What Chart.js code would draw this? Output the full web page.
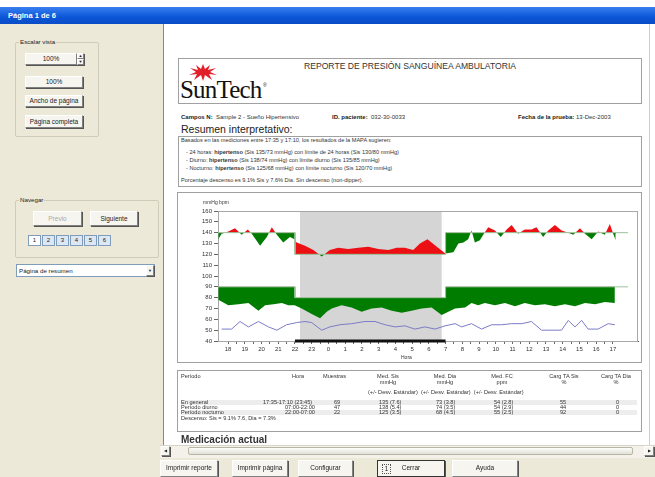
<!DOCTYPE html>
<html>
<head>
<meta charset="utf-8">
<script src="https://cdn.jsdelivr.net/npm/chart.js@4.4.0/dist/chart.umd.min.js"></script>
<style>
body{margin:0;width:655px;height:477px;overflow:hidden;background:#ece9d8;font-family:"Liberation Sans",Arial,sans-serif;position:relative;color:#222}
.a{position:absolute;white-space:nowrap}
.btn{position:absolute;background:#f6f5f0;border:1px solid;border-color:#fff #808080 #808080 #fff;box-shadow:1px 1px 0 #555;font-size:6.5px;text-align:center;color:#222;box-sizing:border-box}
.box{position:absolute;border:1px solid #a0a0a0;box-sizing:border-box;background:#fff}
.grp{position:absolute;border:1px solid #d0ccb8;border-radius:2px;box-sizing:border-box}
.t{font-size:5.6px;color:#333}
.b{font-weight:bold;color:#222}
.row{position:absolute;left:181px;width:456px;height:5px;background:#ededed}
</style>
</head>
<body>
<!-- window frame -->
<div class="a" style="left:0;top:0;width:655px;height:7px;background:#fff"></div>
<div class="a" style="left:0;top:7px;width:655px;height:17px;background:linear-gradient(#3a7ff0,#0a56d8 60%,#0a4cc6)"></div>
<div class="a" style="left:8px;top:11px;font-size:7.5px;color:#fff;font-weight:bold">Página 1 de 6</div>

<!-- left panel -->
<div class="grp" style="left:15px;top:42px;width:84px;height:95px"></div>
<div class="a" style="left:19px;top:38px;font-size:6.2px;background:#ece9d8;padding:0 1px">Escalar vista</div>
<div class="btn" style="left:25px;top:53px;width:52px;height:12px;line-height:10px">100%</div>
<div class="btn" style="left:77px;top:53px;width:7px;height:6px;font-size:4px;line-height:4px">▲</div>
<div class="btn" style="left:77px;top:59px;width:7px;height:6px;font-size:4px;line-height:4px">▼</div>
<div class="btn" style="left:25px;top:76px;width:58px;height:12px;line-height:10px">100%</div>
<div class="btn" style="left:25px;top:95px;width:58px;height:12px;line-height:10px">Ancho de página</div>
<div class="btn" style="left:25px;top:115px;width:58px;height:13px;line-height:11px">Página completa</div>

<div class="grp" style="left:15px;top:200px;width:144px;height:58px"></div>
<div class="a" style="left:19px;top:196px;font-size:6.2px;background:#ece9d8;padding:0 1px">Navegar</div>
<div class="btn" style="left:33px;top:211px;width:49px;height:15px;line-height:13px;color:#aaa">Previo</div>
<div class="btn" style="left:90px;top:211px;width:48px;height:15px;line-height:13px">Siguiente</div>
<div class="a" style="left:28px;top:235px;height:11px;display:flex;gap:1px">
  <div style="width:11px;height:9px;border:1px solid #7f9db9;background:#fff;font-size:6px;text-align:center;line-height:9px">1</div>
  <div style="width:11px;height:9px;border:1px solid #7f9db9;background:#dde6f4;font-size:6px;text-align:center;line-height:9px">2</div>
  <div style="width:11px;height:9px;border:1px solid #7f9db9;background:#dde6f4;font-size:6px;text-align:center;line-height:9px">3</div>
  <div style="width:11px;height:9px;border:1px solid #7f9db9;background:#dde6f4;font-size:6px;text-align:center;line-height:9px">4</div>
  <div style="width:11px;height:9px;border:1px solid #7f9db9;background:#dde6f4;font-size:6px;text-align:center;line-height:9px">5</div>
  <div style="width:11px;height:9px;border:1px solid #7f9db9;background:#dde6f4;font-size:6px;text-align:center;line-height:9px">6</div>
</div>
<div class="a" style="left:16px;top:264px;width:139px;height:13px;background:#fff;border:1px solid #7f9db9;box-sizing:border-box;font-size:6.2px;line-height:11px;padding-left:2px">Página de resumen</div>
<div class="btn" style="left:146px;top:265px;width:8px;height:11px;font-size:4px;line-height:9px">▼</div>

<!-- main view -->
<div class="a" style="left:163px;top:24px;width:1px;height:434px;background:#8a887c"></div>
<div class="a" style="left:164px;top:24px;width:491px;height:421px;background:#fff"></div>
<div class="a" style="left:649px;top:24px;width:1px;height:421px;background:#cfcfcf"></div>

<!-- header -->
<div class="box" style="left:178px;top:58px;width:464px;height:46px"></div>
<svg class="a" style="left:188px;top:64px" width="30" height="17" viewBox="0 0 30 17">
  <polygon fill="#e3202a" points="15,0 17,5 22,1 20,6 28,4 22,8 29,11 21,10 24,16 17,11 15,17 13,11 6,16 9,10 1,11 8,8 2,4 10,6 8,1 13,5"/>
</svg>
<div class="a" style="left:180px;top:76px;font-family:'Liberation Serif',serif;font-size:25px;letter-spacing:-0.8px;color:#111">SunTech</div>
<div class="a" style="left:263px;top:82px;font-size:5px">®</div>
<div class="a" style="left:178px;top:61px;width:464px;text-align:center;font-size:8.6px;color:#333">REPORTE DE PRESIÓN SANGUÍNEA AMBULATORIA</div>

<div class="a t" style="left:181px;top:114px;font-size:6px"><span class="b">Campos N:</span> &nbsp;Sample 2 - Sueño Hipertensivo</div>
<div class="a t" style="left:332px;top:114px;font-size:6px"><span class="b">ID. paciente:</span> &nbsp;032-30-0033</div>
<div class="a t" style="left:518px;top:114px;font-size:6px"><span class="b">Fecha de la prueba:</span> 13-Dec-2003</div>

<div class="a" style="left:181px;top:123px;font-size:10.5px;color:#222">Resumen interpretativo:</div>
<div class="box" style="left:178px;top:136px;width:464px;height:51px"></div>
<div class="a t" style="left:181px;top:137px">Basados en las mediciones entre 17:35 y 17:10, los resultados de la MAPA sugieren:</div>
<div class="a t" style="left:186px;top:149px">- 24 horas: <b>hipertenso</b> (Sis 135/73 mmHg) con límite de 24 horas (Sis 130/80 mmHg)</div>
<div class="a t" style="left:186px;top:157px">- Diurno: <b>hipertenso</b> (Sis 138/74 mmHg) con límite diurno (Sis 135/85 mmHg)</div>
<div class="a t" style="left:186px;top:165px">- Nocturno: <b>hipertenso</b> (Sis 125/68 mmHg) con límite nocturno (Sis 120/70 mmHg)</div>
<div class="a t" style="left:181px;top:177px">Porcentaje descenso es 9.1% Sis y 7.6% Dia. Sin descenso (non-dipper).</div>

<!-- chart -->
<div class="box" style="left:177px;top:192px;width:465px;height:171px"></div>
<div class="a" style="left:178px;top:194px;width:462px;height:167px"><canvas id="bp"></canvas></div>
<div class="a" style="left:203px;top:199px;font-size:5px;color:#333">mmHg bpm</div>
<div class="a" style="left:401px;top:354px;font-size:5px;color:#333">Hora</div>

<!-- table -->
<div class="box" style="left:177px;top:370px;width:465px;height:62px"></div>
<div class="row" style="top:400px"></div>
<div class="row" style="top:410px"></div>
<div class="a t" style="left:181px;top:373px">Período</div>
<div class="a t" style="left:292px;top:373px">Hora</div>
<div class="a t" style="left:323px;top:373px">Muestras</div>
<div class="a t" style="left:371px;top:373px;width:34px;text-align:center">Med. Sis<br>mmHg</div>
<div class="a t" style="left:428px;top:373px;width:34px;text-align:center">Med. Dia<br>mmHg</div>
<div class="a t" style="left:485px;top:373px;width:34px;text-align:center">Med. FC<br>ppm</div>
<div class="a t" style="left:546px;top:373px;width:36px;text-align:center">Carg TA Sis<br>%</div>
<div class="a t" style="left:598px;top:373px;width:36px;text-align:center">Carg TA Dia<br>%</div>
<div class="a t" style="left:368px;top:389px">(+/- Desv. Estándar) &nbsp;(+/- Desv. Estándar) &nbsp;(+/- Desv. Estándar)</div>

<div class="a t" style="left:181px;top:399px">En general</div>
<div class="a t" style="left:263px;top:399px">17:35-17:10 (23:45)</div>
<div class="a t" style="left:334px;top:399px">69</div>
<div class="a t" style="left:379px;top:399px">135 (7.6)</div>
<div class="a t" style="left:436px;top:399px">73 (3.8)</div>
<div class="a t" style="left:494px;top:399px">54 (2.8)</div>
<div class="a t" style="left:560px;top:399px">55</div>
<div class="a t" style="left:616px;top:399px">0</div>

<div class="a t" style="left:181px;top:404px">Período diurno</div>
<div class="a t" style="left:285px;top:404px">07:00-22:00</div>
<div class="a t" style="left:334px;top:404px">47</div>
<div class="a t" style="left:379px;top:404px">138 (5.4)</div>
<div class="a t" style="left:436px;top:404px">74 (3.5)</div>
<div class="a t" style="left:494px;top:404px">54 (2.9)</div>
<div class="a t" style="left:560px;top:404px">44</div>
<div class="a t" style="left:616px;top:404px">0</div>

<div class="a t" style="left:181px;top:409px">Período nocturno</div>
<div class="a t" style="left:285px;top:409px">22:00-07:00</div>
<div class="a t" style="left:334px;top:409px">22</div>
<div class="a t" style="left:379px;top:409px">125 (3.5)</div>
<div class="a t" style="left:436px;top:409px">68 (4.5)</div>
<div class="a t" style="left:494px;top:409px">55 (2.5)</div>
<div class="a t" style="left:560px;top:409px">92</div>
<div class="a t" style="left:616px;top:409px">0</div>
<div class="a t" style="left:181px;top:415px">Descenso: Sis = 9.1% 7.6, Dia = 7.3%</div>

<div class="a" style="left:181px;top:434px;font-size:10px;font-weight:bold;color:#333">Medicación actual</div>

<!-- scrollbar -->
<div class="a" style="left:160px;top:445px;width:495px;height:12px;background:#f3f1ea;border-top:1px solid #d8d5c8"></div>
<div class="btn" style="left:161px;top:446px;width:9px;height:10px;font-size:4px;line-height:8px">◀</div>
<div class="a" style="left:188px;top:447px;width:445px;height:8px;background:linear-gradient(#fdfdfb,#e2e0d6);border:1px solid #b9b6a6;border-radius:2px;box-sizing:border-box"></div>
<div class="btn" style="left:644px;top:446px;width:10px;height:10px;font-size:4px;line-height:8px">▶</div>

<!-- bottom buttons -->
<div class="btn" style="left:160px;top:460px;width:58px;height:17px;line-height:14px">Imprimir reporte</div>
<div class="btn" style="left:232px;top:460px;width:56px;height:17px;line-height:14px">Imprimir página</div>
<div class="btn" style="left:298px;top:460px;width:55px;height:17px;line-height:14px">Configurar</div>
<div class="btn" style="left:377px;top:460px;width:68px;height:17px;line-height:14px;border:1px solid #333">
  <span style="position:absolute;left:4px;top:3px;width:7px;height:8px;border:1px dotted #555;line-height:8px">1</span>Cerrar</div>
<div class="btn" style="left:452px;top:460px;width:66px;height:17px;line-height:14px">Ayuda</div>

<script>
// readings (clock time, day wraps after midnight)
var sysTimes = ['17:25','17:37','18:01','18:25','18:49','19:11','19:25','19:55','20:19','20:37','20:55','21:18','21:42','21:58',
  '22:06','22:36','23:06','23:36','00:05','00:35','01:11','01:47','02:23','02:59','03:35','04:05','04:34','05:04','05:28','05:55',
  '06:58','07:04','07:28','07:46','08:04','08:21','08:33','08:45','09:03','09:15','09:33','09:57','10:18','10:39','10:57',
  '11:20','11:44','12:08','12:26','12:50','13:08','13:32','13:56','14:20','14:38','15:02','15:20','15:44','16:07','16:31',
  '16:49','17:01','17:10'];
var sysValues = [134,139,141,144,138,143,139,128,136,145,138,131,136,134,
  131,128,124,118,124,126,125,126,127,125,124,126,126,124,130,134,
  121,121,122,130,131,134,142,131,133,138,145,142,136,143,147,
  139,143,143,145,136,142,147,142,140,138,144,139,134,141,138,
  148,139,133];

var diaTimes = ['17:25','18:01','18:37','19:13','19:49','20:13','20:43','21:13','21:36','21:59','22:24','23:00','23:30','23:54',
  '00:12','00:47','01:23','01:59','02:35','03:11','03:47','04:23','04:58','05:34','06:10','06:46','07:10','07:34','08:10',
  '08:33','08:57','09:21','09:57','10:33','11:09','11:44','12:20','12:56','13:32','14:08','14:44','15:20','15:56','16:31','17:07'];
var diaValues = [78,73,74,75,68,73,74,75,73,73,70,65,61,67,
  70,73,71,67,70,71,68,66,68,70,71,64,67,70,71,
  75,73,75,73,75,72,75,73,74,72,74,72,75,74,76,75];

var hrTimes = ['17:37','18:13','18:43','19:13','19:49','20:25','20:55','21:30','22:06','22:36','23:00','23:36','00:05','00:41',
  '01:23','02:11','02:47','03:23','03:59','04:34','05:10','05:46','06:22','06:58','07:34','07:58','08:33','09:09','09:45',
  '10:21','10:57','11:33','12:08','12:44','13:56','14:20','14:44','15:08','15:31','16:07','16:43','17:07'];
var hrValues = [51,51,58,53,58,53,50,55,57,58,57,50,53,55,
  56,58,58,55,53,54,51,53,51,54,56,53,56,51,55,
  55,56,56,58,50,50,59,53,59,51,51,56,55];

// day / night limits
var limitTimes = ['17:24','22:00','22:00','07:00','07:00','17:54'];
var sysLimit = [140,140,120,120,140,140];
var diaLimit = [90,90,80,80,90,90];

// "+" = next day
var axisRange = ['17:24','+18:30'];
var nightShade = ['22:18','+06:46'];
var sleepBar = ['22:00','+07:00'];
var hourLabels = ['18','19','20','21','22','23','0','1','2','3','4','5','6','7','8','9','10','11','12','13','14','15','16','17'];
var yTicks = [40,50,60,70,80,90,100,110,120,130,140,150,160];

// "HH:MM" list -> running hours, adding a day whenever the clock goes back
function toHours(list) {
  var out = [], off = 0, prev = -1;
  list.forEach(function (s) {
    var next = s.charAt(0) === '+';
    var p = s.replace('+', '').split(':');
    var h = +p[0] + p[1] / 60;
    if (next) {
      out.push(h + 24);
      return;
    }
    if (h < prev) off += 24;
    prev = h;
    out.push(h + off);
  });
  return out;
}
function pts(times, vals) {
  var x = toHours(times);
  return vals.map(function (v, i) { return {x: x[i], y: v}; });
}

var range = toHours(axisRange);
var shade = toHours(nightShade);
var sleep = toHours(sleepBar);

var red = 'rgb(236,16,20)';
var green = 'rgb(0,125,0)';

var bandPlugin = {
  id: 'band',
  beforeDatasetsDraw: function (chart) {
    var a = chart.chartArea, x = chart.scales.x, ctx = chart.ctx;
    ctx.save();
    ctx.fillStyle = '#d5d5d5';
    var x0 = x.getPixelForValue(shade[0]), x1 = x.getPixelForValue(shade[1]);
    ctx.fillRect(x0, a.top, x1 - x0, a.bottom - a.top);
    ctx.strokeStyle = '#a8a8a8';
    ctx.lineWidth = 1;
    ctx.strokeRect(a.left + 0.5, a.top + 0.5, a.right - a.left - 1, a.bottom - a.top);
    ctx.restore();
  },
  afterDatasetsDraw: function (chart) {
    var a = chart.chartArea, x = chart.scales.x, ctx = chart.ctx;
    var x0 = x.getPixelForValue(sleep[0]), x1 = x.getPixelForValue(sleep[1]);
    ctx.save();
    ctx.fillStyle = '#111';
    ctx.fillRect(x0, a.bottom - 1.5, x1 - x0, 3);
    ctx.restore();
  }
};

Chart.defaults.font.family = 'Liberation Sans';
Chart.defaults.font.size = 6;
Chart.defaults.color = '#333';

new Chart(document.getElementById('bp'), {
  type: 'line',
  data: {
    datasets: [
      {data: pts(limitTimes, sysLimit), borderColor: '#9cc09c', borderWidth: 1, pointRadius: 0, fill: false},
      {data: pts(sysTimes, sysValues), borderWidth: 0, borderColor: 'rgba(0,0,0,0)', pointRadius: 0,
        fill: {target: 0, above: red, below: green}},
      {data: pts(limitTimes, diaLimit), borderColor: '#9cc09c', borderWidth: 1, pointRadius: 0, fill: false},
      {data: pts(diaTimes, diaValues), borderWidth: 0, borderColor: 'rgba(0,0,0,0)', pointRadius: 0,
        fill: {target: 2, above: red, below: green}},
      {data: pts(hrTimes, hrValues), borderColor: '#7c7cc8', borderWidth: 1, pointRadius: 0, fill: false}
    ]
  },
  options: {
    responsive: true,
    maintainAspectRatio: false,
    animation: false,
    layout: {padding: {top: 17, right: 2, left: 0, bottom: 0}},
    plugins: {legend: {display: false}, tooltip: {enabled: false}},
    scales: {
      x: {
        type: 'linear',
        min: range[0],
        max: range[1],
        afterBuildTicks: function (axis) {
          var t = [];
          for (var i = 0; i < hourLabels.length; i++) {
            t.push({value: 18 + i});
            if (i < hourLabels.length - 1) t.push({value: 18.5 + i});
          }
          axis.ticks = t;
        },
        afterFit: function (s) { s.height = 20; },
        ticks: {
          autoSkip: false, maxRotation: 0, padding: 2,
          callback: function (v) {
            return Number.isInteger(v) ? hourLabels[v - 18] : '';
          }
        },
        grid: {drawOnChartArea: false, tickLength: 3, color: '#666'},
        border: {color: '#555'}
      },
      y: {
        min: yTicks[0],
        max: yTicks[yTicks.length - 1],
        afterBuildTicks: function (axis) {
          axis.ticks = yTicks.map(function (v) { return {value: v}; });
        },
        afterFit: function (s) { s.width = 40; },
        ticks: {padding: 2},
        grid: {drawOnChartArea: false, tickLength: 4, color: '#666'},
        border: {color: '#555'}
      }
    }
  },
  plugins: [bandPlugin]
});
</script>
</body>
</html>
